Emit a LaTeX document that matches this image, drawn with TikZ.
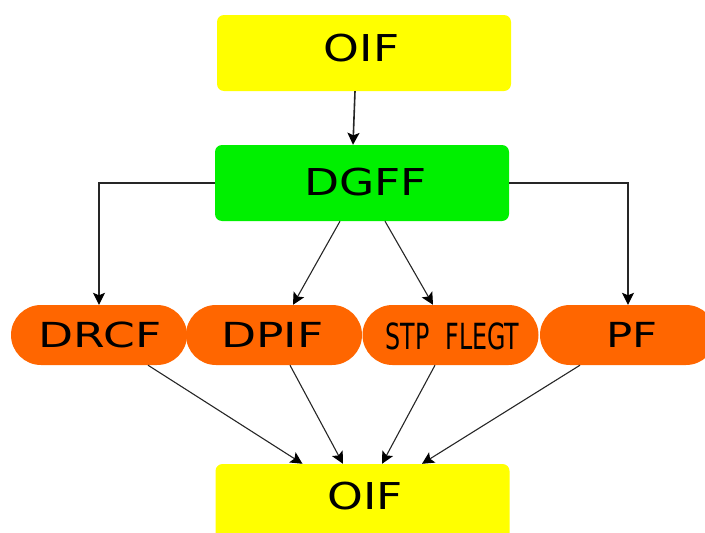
\documentclass[tikz,border=0pt]{standalone}
\usepackage{fontspec}
\setmainfont{DejaVu Sans}
\usetikzlibrary{arrows.meta,calc}
\definecolor{boxyellow}{HTML}{FFFF00}
\definecolor{boxgreen}{HTML}{00F000}
\definecolor{pillorange}{HTML}{FF6600}
\begin{document}
\begin{tikzpicture}[x=1pt,y=-1pt,
  box/.style={rectangle,rounded corners=7pt,minimum width=294pt,minimum height=76pt,inner sep=0pt},
  pill/.style={rectangle,rounded corners=30pt,minimum width=176pt,minimum height=60pt,fill=pillorange,inner sep=0pt},
  link/.style={draw=black!85,line width=1.1pt,-{Stealth[length=12pt,width=12pt,inset=2.5pt,color=black]}},
  bigtxt/.style={inner sep=0pt,font=\fontsize{37}{40}\selectfont},
  midtxt/.style={inner sep=0pt,font=\fontsize{34.5}{37}\selectfont},
]
\useasboundingbox (0,0) rectangle (705,533);

% boxes
\node[box,fill=boxyellow] (top) at (364,53) {};
\node[box,fill=boxgreen] (dgff) at (362,183) {};
\node[box,fill=boxyellow,minimum height=120pt] (bot) at (362.5,524) {};

% pills
\node[pill] (drcf) at (99,335) {};
\node[pill] (dpif) at (274,335) {};
\node[pill] (stp) at (450.5,335) {};
\node[pill] (pf) at (628,335) {};

% labels
\node[bigtxt] (ltop) at (361.5,48) {\scalebox{1.23}[1]{OIF}};
\node[bigtxt] (ldgff) at (365.5,182) {\scalebox{1.23}[1]{DGFF}};
\node[bigtxt] (lbot) at (365,496) {\scalebox{1.23}[1]{OIF}};
\node[midtxt] (ldrcf) at (100,335) {\scalebox{1.32}[1]{DRCF}};
\node[midtxt] (ldpif) at (272.5,334.5) {\scalebox{1.32}[1]{DPIF}};
\node[inner sep=0pt,font=\fontsize{36}{39}\selectfont] (lstp) at (452.5,336) {\scalebox{0.66}[1]{STP\hspace{0.35em} FLEGT}};
\node[midtxt] (lpf) at (632,335) {\scalebox{1.26}[1]{PF}};

% connectors
\draw[link,line width=1.6pt] ($(top.south)+(-9,0)$) -- ($(dgff.north)+(-9,0)$);
\draw[link] (dgff.west) -| (drcf.north);
\draw[link] (dgff.east) -| (pf.north);
\draw[link] ($(dgff.south)+(-22,0)$) -- ($(dpif.north)+(19,0)$);
\draw[link] ($(dgff.south)+(23,0)$) -- ($(stp.north)+(-17.5,0)$);
\draw[link] ($(drcf.south)+(49,0)$) -- ($(bot.north)+(-60,0)$);
\draw[link] ($(dpif.south)+(16,0)$) -- ($(bot.north)+(-19.5,0)$);
\draw[link] ($(stp.south)+(-15.5,0)$) -- ($(bot.north)+(19.5,0)$);
\draw[link] ($(pf.south)+(-48,0)$) -- ($(bot.north)+(59.5,0)$);
\end{tikzpicture}
\end{document}
